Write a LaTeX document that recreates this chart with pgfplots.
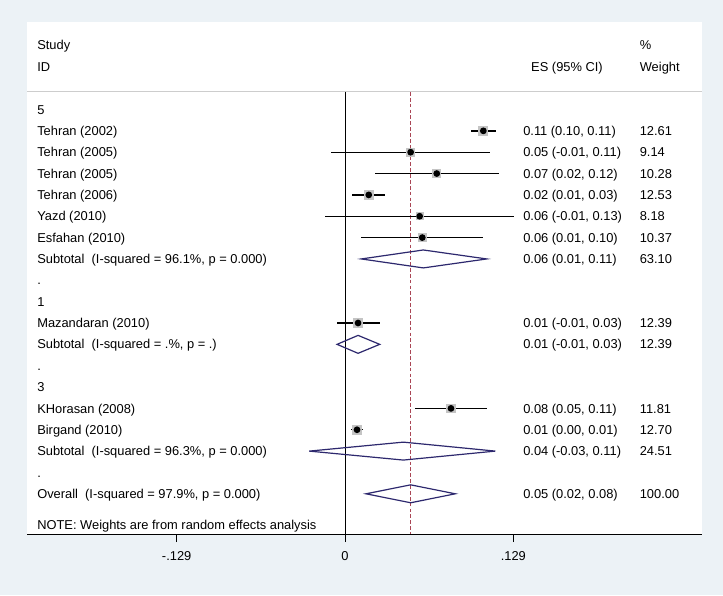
\documentclass[border=0pt]{standalone}
\usepackage{pgfplots}
\usepackage{pgfplotstable}
\pgfplotsset{compat=1.18}
\usepackage{fontspec}
\setmainfont{Liberation Sans}
\definecolor{bgcol}{RGB}{236,242,246}
\definecolor{boxgray}{RGB}{196,196,196}
\definecolor{dnavy}{RGB}{45,40,110}
\definecolor{dred}{RGB}{170,70,85}
\definecolor{hline}{RGB}{205,205,205}

\pgfplotstableread{
row es lo hi w
1 0.1060 0.0963 0.1155 12.61
2 0.0503 -0.0107 0.1111 9.14
3 0.0703 0.0228 0.1180 10.28
4 0.0182 0.0056 0.0309 12.53
5 0.0572 -0.0153 0.1297 8.18
6 0.0592 0.0125 0.1057 10.37
10 0.0100 -0.0061 0.0266 12.39
14 0.0812 0.0539 0.1088 11.81
15 0.0092 0.0048 0.0138 12.70
}\studies

\newcommand{\fs}{\fontsize{9.65}{11}\selectfont}
\tikzset{lab/.style={anchor=base west, inner sep=0pt, font=\fs, yshift=-3.45pt}}
\begin{document}
\begin{tikzpicture}
\fill[bgcol] (0,0) rectangle (542.25pt,446.25pt);
\fill[white] (20.25pt,45.75pt) rectangle (526.5pt,429.75pt);
\begin{axis}[
  at={(20.25pt,45.75pt)}, anchor=south west,
  scale only axis, width=506.25pt, height=384pt,
  xmin=-0.24368, xmax=0.27356, ymin=-4.098, ymax=19.883, y dir=reverse,
  axis x line*=bottom, axis y line=none,
  x axis line style={-, black, line width=0.75pt},
  xtick={-0.129,0,0.129}, xticklabels={\mbox{-.129},\mbox{0},\mbox{.129}},
  tick align=outside, major tick length=6pt,
  tick style={black, line width=0.75pt},
  xticklabel style={font=\fs, yshift=-3.5pt},
  clip=false,
]
% header line
\addplot[hline, line width=0.75pt] coordinates {(-0.24368,-0.82) (0.27356,-0.82)};
% zero line and overall line
\addplot[black, line width=0.75pt] coordinates {(0,-0.82) (0,19.883)};
\addplot[dred, line width=0.75pt, dash pattern=on 2.8pt off 1.6pt] coordinates {(0.0503,-0.82) (0.0503,19.883)};
% weight boxes
\addplot[scatter, only marks, mark=square*, draw=boxgray, fill=boxgray,
  mark options={draw=boxgray, fill=boxgray, line width=0pt},
  scatter/use mapped color={draw=boxgray, fill=boxgray},
  visualization depends on={sqrt(\thisrow{w})*0.95 \as \ms},
  scatter/@pre marker code/.append style={/tikz/mark size=\ms}]
  table[x=es, y=row] {\studies};
% CIs
\addplot[black, line width=1pt, only marks, mark=none, error bars/.cd, x dir=both, x explicit,
  error mark=none, error bar style={black, line width=1pt}]
  table[x=es, y=row, x error plus expr=\thisrow{hi}-\thisrow{es}, x error minus expr=\thisrow{es}-\thisrow{lo}] {\studies};
% point estimates
\addplot[only marks, mark=*, mark size=1.5pt, black] table[x=es, y=row] {\studies};
% diamonds
\addplot[dnavy, line width=0.9pt] coordinates {(0.0125,7) (0.0600,6.58) (0.1086,7) (0.0600,7.42)} -- cycle;
\addplot[dnavy, line width=0.9pt] coordinates {(-0.0061,11) (0.0100,10.58) (0.0266,11) (0.0100,11.42)} -- cycle;
\addplot[dnavy, line width=0.9pt] coordinates {(-0.0274,16) (0.0447,15.58) (0.1152,16) (0.0447,16.42)} -- cycle;
\addplot[dnavy, line width=0.9pt] coordinates {(0.0161,18) (0.0503,17.58) (0.0845,18) (0.0503,18.42)} -- cycle;
% headers
\node[lab] at (axis cs:-0.2360,-3.02) {Study};
\node[lab] at (axis cs:-0.2360,-2.01) {ID};
\node[lab, anchor=base] at (axis cs:0.1701,-2.01) {ES (95\% CI)};
\node[lab] at (axis cs:0.2257,-3.02) {\%};
\node[lab] at (axis cs:0.2257,-2.01) {Weight};
% left column
\node[lab] at (axis cs:-0.2360,0) {5};
\node[lab] at (axis cs:-0.2360,1) {Tehran (2002)};
\node[lab] at (axis cs:-0.2360,2) {Tehran (2005)};
\node[lab] at (axis cs:-0.2360,3) {Tehran (2005)};
\node[lab] at (axis cs:-0.2360,4) {Tehran (2006)};
\node[lab] at (axis cs:-0.2360,5) {Yazd (2010)};
\node[lab] at (axis cs:-0.2360,6) {Esfahan (2010)};
\node[lab] at (axis cs:-0.2360,7) {Subtotal\ \ (I-squared = 96.1\%, p = 0.000)};
\node[lab] at (axis cs:-0.2360,8) {.};
\node[lab] at (axis cs:-0.2360,9) {1};
\node[lab] at (axis cs:-0.2360,10) {Mazandaran (2010)};
\node[lab] at (axis cs:-0.2360,11) {Subtotal\ \ (I-squared = .\%, p = .)};
\node[lab] at (axis cs:-0.2360,12) {.};
\node[lab] at (axis cs:-0.2360,13) {3};
\node[lab] at (axis cs:-0.2360,14) {KHorasan (2008)};
\node[lab] at (axis cs:-0.2360,15) {Birgand (2010)};
\node[lab] at (axis cs:-0.2360,16) {Subtotal\ \ (I-squared = 96.3\%, p = 0.000)};
\node[lab] at (axis cs:-0.2360,17) {.};
\node[lab] at (axis cs:-0.2360,18) {Overall\ \ (I-squared = 97.9\%, p = 0.000)};
\node[lab] at (axis cs:-0.2360,19.46) {NOTE: Weights are from random effects analysis};
% ES column
\node[lab] at (axis cs:0.1364,1) {0.11 (0.10, 0.11)};
\node[lab] at (axis cs:0.1364,2) {0.05 (-0.01, 0.11)};
\node[lab] at (axis cs:0.1364,3) {0.07 (0.02, 0.12)};
\node[lab] at (axis cs:0.1364,4) {0.02 (0.01, 0.03)};
\node[lab] at (axis cs:0.1364,5) {0.06 (-0.01, 0.13)};
\node[lab] at (axis cs:0.1364,6) {0.06 (0.01, 0.10)};
\node[lab] at (axis cs:0.1364,7) {0.06 (0.01, 0.11)};
\node[lab] at (axis cs:0.1364,10) {0.01 (-0.01, 0.03)};
\node[lab] at (axis cs:0.1364,11) {0.01 (-0.01, 0.03)};
\node[lab] at (axis cs:0.1364,14) {0.08 (0.05, 0.11)};
\node[lab] at (axis cs:0.1364,15) {0.01 (0.00, 0.01)};
\node[lab] at (axis cs:0.1364,16) {0.04 (-0.03, 0.11)};
\node[lab] at (axis cs:0.1364,18) {0.05 (0.02, 0.08)};
% weight column
\node[lab] at (axis cs:0.2257,1) {12.61};
\node[lab] at (axis cs:0.2257,2) {9.14};
\node[lab] at (axis cs:0.2257,3) {10.28};
\node[lab] at (axis cs:0.2257,4) {12.53};
\node[lab] at (axis cs:0.2257,5) {8.18};
\node[lab] at (axis cs:0.2257,6) {10.37};
\node[lab] at (axis cs:0.2257,7) {63.10};
\node[lab] at (axis cs:0.2257,10) {12.39};
\node[lab] at (axis cs:0.2257,11) {12.39};
\node[lab] at (axis cs:0.2257,14) {11.81};
\node[lab] at (axis cs:0.2257,15) {12.70};
\node[lab] at (axis cs:0.2257,16) {24.51};
\node[lab] at (axis cs:0.2257,18) {100.00};
\end{axis}
\pgfresetboundingbox
\path (0,0) rectangle (542.25pt,446.25pt);
\end{tikzpicture}
\end{document}
